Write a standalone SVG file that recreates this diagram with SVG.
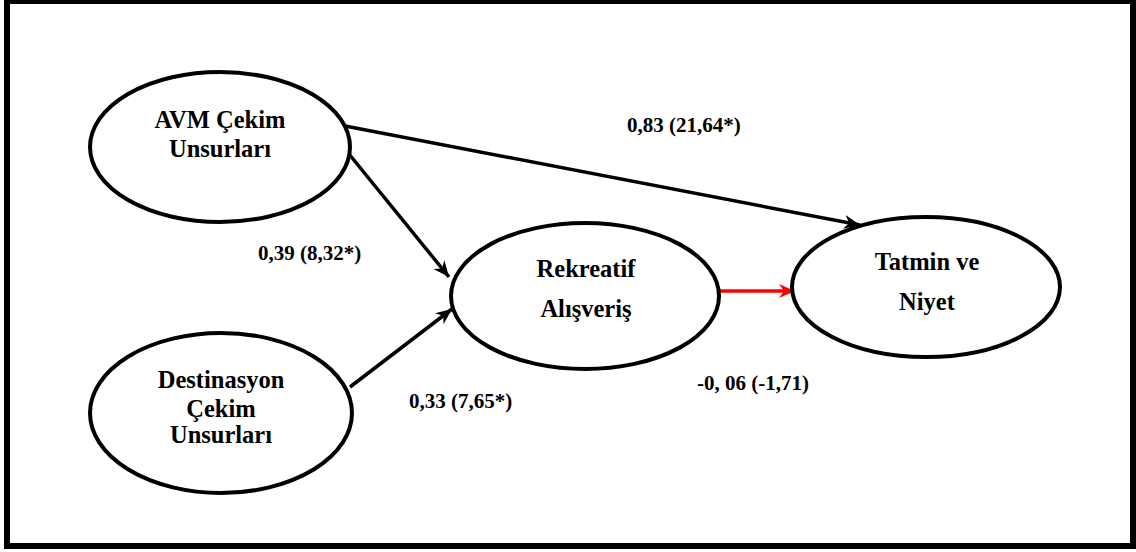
<svg xmlns="http://www.w3.org/2000/svg" width="1136" height="552" viewBox="0 0 1136 552">
  <style>
    .node ellipse { fill: #ffffff; stroke: #000000; stroke-width: 4; }
    .node text { font-family: "Liberation Serif", "Times New Roman", serif; font-weight: bold; font-size: 24.5px; fill: #000000; text-anchor: middle; }
    .edge { fill: none; stroke: #000000; stroke-width: 3.5; }
    .edge.neg { stroke: #ff0000; stroke-width: 3.5; }
    .lbl { font-family: "Liberation Serif", "Times New Roman", serif; font-weight: bold; font-size: 21px; fill: #000000; }
  </style>
  <defs>
    <marker id="arrow" markerUnits="userSpaceOnUse" markerWidth="18" markerHeight="16" refX="16" refY="7" orient="auto">
      <path d="M0,0 L16,7 L0,14 L5,7 z" fill="#000000"/>
    </marker>
    <marker id="arrow-red" markerUnits="userSpaceOnUse" markerWidth="18" markerHeight="16" refX="16" refY="7" orient="auto">
      <path d="M0,0 L16,7 L0,14 L5,7 z" fill="#ff0000"/>
    </marker>
  </defs>

  <rect width="1136" height="552" fill="#ffffff"/>
  <!-- outer frame -->
  <rect x="7" y="1" width="1126" height="545" fill="none" stroke="#000000" stroke-width="6"/>

  <g id="connectors">
    <line class="edge" x1="345" y1="126" x2="860" y2="225" marker-end="url(#arrow)"/>
    <line class="edge" x1="349" y1="154" x2="449" y2="277" marker-end="url(#arrow)"/>
    <line class="edge" x1="350" y1="387" x2="452" y2="309" marker-end="url(#arrow)"/>
    <line class="edge neg" x1="720" y1="291" x2="795" y2="291" marker-end="url(#arrow-red)"/>
    <text class="lbl" x="627" y="132">0,83 (21,64*)</text>
    <text class="lbl" x="258" y="260">0,39 (8,32*)</text>
    <text class="lbl" x="409" y="408">0,33 (7,65*)</text>
    <text class="lbl" x="697" y="390">-0, 06 (-1,71)</text>
  </g>

  <g id="avm" class="node">
    <ellipse cx="220" cy="147" rx="130" ry="75"/>
    <text x="220" y="128">AVM Çekim</text>
    <text x="220" y="157">Unsurları</text>
  </g>

  <g id="destinasyon" class="node">
    <ellipse cx="221" cy="413" rx="131" ry="80"/>
    <text x="221" y="388">Destinasyon</text>
    <text x="221" y="417">Çekim</text>
    <text x="221" y="443">Unsurları</text>
  </g>

  <g id="rekreatif" class="node">
    <ellipse cx="585" cy="296" rx="134" ry="73"/>
    <text x="586" y="277">Rekreatif</text>
    <text x="586" y="317">Alışveriş</text>
  </g>

  <g id="tatmin" class="node">
    <ellipse cx="926" cy="287" rx="134" ry="70"/>
    <text x="927" y="270">Tatmin ve</text>
    <text x="927" y="310">Niyet</text>
  </g>
</svg>
